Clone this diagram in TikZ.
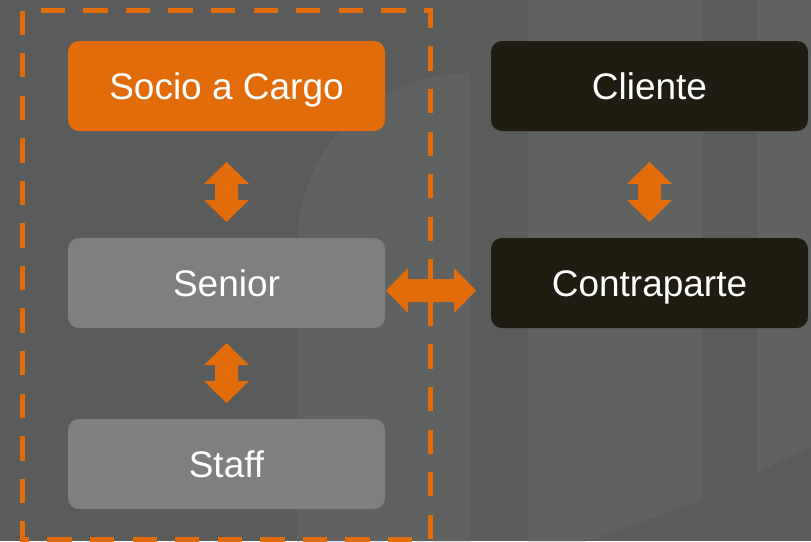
\documentclass[tikz,border=0pt]{standalone}
\usepackage{fontspec}
\setmainfont{Liberation Sans}
\usetikzlibrary{calc}
\definecolor{bgdark}{HTML}{5A5C5B}
\definecolor{bglight}{HTML}{606261}
\definecolor{orng}{HTML}{E36C0A}
\definecolor{boxgray}{HTML}{7F7F7F}
\definecolor{boxdark}{HTML}{1F1C11}
\tikzset{
  box/.style={rounded corners=11pt, minimum width=317pt, minimum height=90pt,
    inner sep=0pt, text=white, text height=26.5pt, text depth=0pt,
    font=\fontsize{37}{40}\selectfont},
  orangebox/.style={box, fill=orng},
  graybox/.style={box, fill=boxgray},
  darkbox/.style={box, fill=boxdark},
  vdarrow/.pic={\fill[orng] (0,-30) -- ++(22.5,22) -- ++(-11,0) -- ++(0,16) -- ++(11,0)
     -- ++(-22.5,22) -- ++(-22.5,-22) -- ++(11,0) -- ++(0,-16) -- ++(-11,0) -- cycle;},
  hdarrow/.pic={\fill[orng] (-45,0) -- ++(22,-22.5) -- ++(0,11) -- ++(46,0) -- ++(0,-11)
     -- ++(22,22.5) -- ++(-22,22.5) -- ++(0,-11) -- ++(-46,0) -- ++(0,11) -- cycle;},
  groupframe/.style={draw=orng, line width=5pt, dash pattern=on 24.3pt off 18.27pt}
}
\begin{document}
\begin{tikzpicture}[x=1pt,y=-1pt]
\useasboundingbox (0,0) rectangle (811,541);
% background
\fill[bgdark] (0,0) rectangle (811,541);
\fill[bglight] (297,541) -- (297,250) .. controls (297,140) and (380,73) .. (470,73) -- (470,541) -- cycle;
\fill[bglight] (528,0) -- (703,0) -- (703,500) -- (587,541) -- (528,541) -- cycle;
\fill[bglight] (757,0) -- (811,0) -- (811,447) -- (757,473) -- cycle;
% boxes
\node[orangebox] (socio) at (226.5,86) {Socio a Cargo};
\node[graybox] (senior) at (226.5,283) {Senior};
\node[graybox] (staff) at (226.5,464) {Staff};
\node[darkbox] (cliente) at (649.5,86) {Cliente};
\node[darkbox] (contra) at (649.5,283) {Contraparte};
% connectors
\pic at ($(socio.south)!0.57!(senior.north)$) {vdarrow};
\pic at ($(senior.south)!0.495!(staff.north)$) {vdarrow};
\pic at ($(cliente.south)!0.57!(contra.north)$) {vdarrow};
\pic at ($(senior.east)!0.434!(contra.west)+(0,7.5)$) {hdarrow};
% dashed group frame
\draw[groupframe] (22.5,10.5) -- (22.5,539) -- (430.5,539) -- (430.5,10.5) -- cycle;
\end{tikzpicture}
\end{document}
